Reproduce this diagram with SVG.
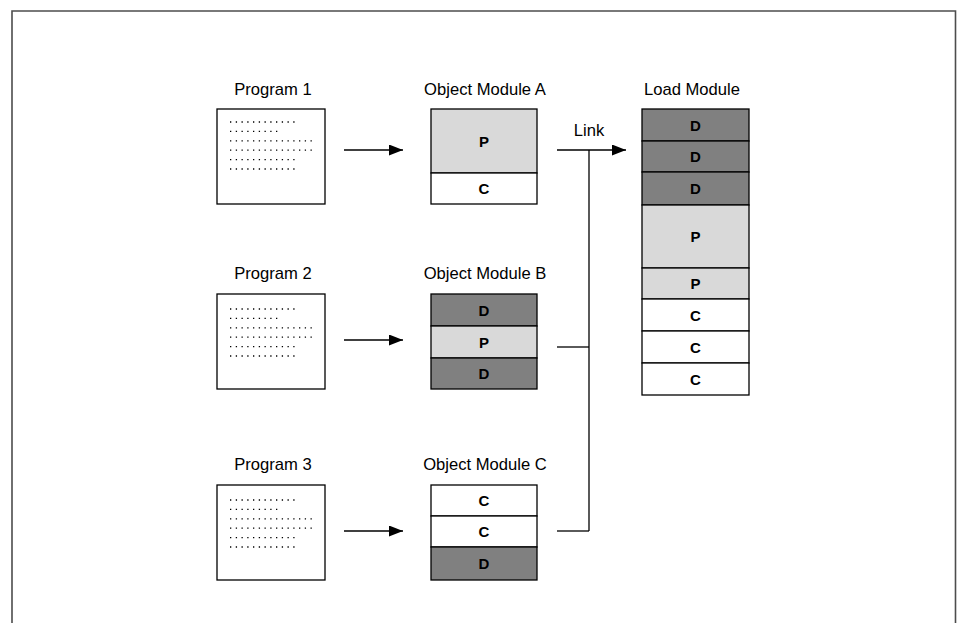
<svg xmlns="http://www.w3.org/2000/svg" width="962" height="623" viewBox="0 0 962 623">
<style>
.bg{fill:#fff}
.frame{fill:none;stroke:#4d4d4d;stroke-width:1.6}
.box{fill:#fff;stroke:#000;stroke-width:1.3}
.d{fill:#808080;stroke:#000;stroke-width:1.3}
.p{fill:#d9d9d9;stroke:#000;stroke-width:1.3}
.c{fill:#fff;stroke:#000;stroke-width:1.3}
.lbl{font-family:"Liberation Sans",Arial,sans-serif;font-size:16.6px;fill:#000;text-anchor:middle}
.seg{font-family:"Liberation Sans",Arial,sans-serif;font-size:15px;font-weight:bold;fill:#000;text-anchor:middle;dominant-baseline:central}
.dots{stroke:#000;stroke-width:1.3;stroke-dasharray:1.3 4.45;fill:none}
.conn{stroke:#000;stroke-width:1.3;fill:none}
</style>
<defs>
<marker id="ah" markerUnits="userSpaceOnUse" markerWidth="15" markerHeight="12" refX="14" refY="5.5" orient="auto">
<path d="M0,0 L14,5.5 L0,11 Z" fill="#000"/>
</marker>
<g id="dotblock">
<line class="dots" x1="230" y1="0" x2="294.55" y2="0"/>
<line class="dots" x1="230" y1="9.4" x2="277.3" y2="9.4"/>
<line class="dots" x1="230" y1="18.8" x2="311.8" y2="18.8"/>
<line class="dots" x1="230" y1="28.2" x2="311.8" y2="28.2"/>
<line class="dots" x1="230" y1="37.6" x2="294.55" y2="37.6"/>
<line class="dots" x1="230" y1="47" x2="294.55" y2="47"/>
</g>
</defs>
<rect class="bg" x="0" y="0" width="962" height="623"/>
<path class="frame" d="M12,623 L12,11 L955.5,11 L955.5,623"/>

<g id="program1">
<text class="lbl" x="273" y="95">Program 1</text>
<rect class="box" x="217" y="109" width="108" height="95"/>
<use href="#dotblock" y="122"/>
</g>
<g id="program2">
<text class="lbl" x="273" y="279">Program 2</text>
<rect class="box" x="217" y="294" width="108" height="95"/>
<use href="#dotblock" y="309"/>
</g>
<g id="program3">
<text class="lbl" x="273" y="470">Program 3</text>
<rect class="box" x="217" y="485" width="108" height="95"/>
<use href="#dotblock" y="500"/>
</g>

<g id="objA">
<text class="lbl" x="485" y="95">Object Module A</text>
<rect class="p" x="431" y="109" width="106" height="64"/>
<rect class="c" x="431" y="173" width="106" height="31"/>
<text class="seg" x="484" y="141">P</text>
<text class="seg" x="484" y="188.5">C</text>
</g>
<g id="objB">
<text class="lbl" x="485" y="279">Object Module B</text>
<rect class="d" x="431" y="294" width="106" height="32"/>
<rect class="p" x="431" y="326" width="106" height="32"/>
<rect class="d" x="431" y="358" width="106" height="31"/>
<text class="seg" x="484" y="310">D</text>
<text class="seg" x="484" y="342">P</text>
<text class="seg" x="484" y="373.5">D</text>
</g>
<g id="objC">
<text class="lbl" x="485" y="470">Object Module C</text>
<rect class="c" x="431" y="485" width="106" height="31"/>
<rect class="c" x="431" y="516" width="106" height="31"/>
<rect class="d" x="431" y="547" width="106" height="33"/>
<text class="seg" x="484" y="500.5">C</text>
<text class="seg" x="484" y="531.5">C</text>
<text class="seg" x="484" y="563.5">D</text>
</g>

<g id="loadModule">
<text class="lbl" x="692" y="95">Load Module</text>
<rect class="d" x="642" y="109" width="107" height="32"/>
<rect class="d" x="642" y="141" width="107" height="31"/>
<rect class="d" x="642" y="172" width="107" height="33"/>
<rect class="p" x="642" y="205" width="107" height="63"/>
<rect class="p" x="642" y="268" width="107" height="31"/>
<rect class="c" x="642" y="299" width="107" height="32"/>
<rect class="c" x="642" y="331" width="107" height="32"/>
<rect class="c" x="642" y="363" width="107" height="32"/>
<text class="seg" x="695.5" y="125">D</text>
<text class="seg" x="695.5" y="156.5">D</text>
<text class="seg" x="695.5" y="188.5">D</text>
<text class="seg" x="695.5" y="236.5">P</text>
<text class="seg" x="695.5" y="283.5">P</text>
<text class="seg" x="695.5" y="315">C</text>
<text class="seg" x="695.5" y="347">C</text>
<text class="seg" x="695.5" y="379">C</text>
</g>

<g id="connectors">
<line class="conn" x1="344" y1="150" x2="403" y2="150" marker-end="url(#ah)"/>
<line class="conn" x1="344" y1="340" x2="403" y2="340" marker-end="url(#ah)"/>
<line class="conn" x1="344" y1="531" x2="403" y2="531" marker-end="url(#ah)"/>
<line class="conn" x1="557" y1="150" x2="626" y2="150" marker-end="url(#ah)"/>
<line class="conn" x1="589" y1="150" x2="589" y2="531"/>
<line class="conn" x1="557" y1="347" x2="589" y2="347"/>
<line class="conn" x1="557" y1="531" x2="589" y2="531"/>
<text class="lbl" x="589" y="136">Link</text>
</g>
</svg>
